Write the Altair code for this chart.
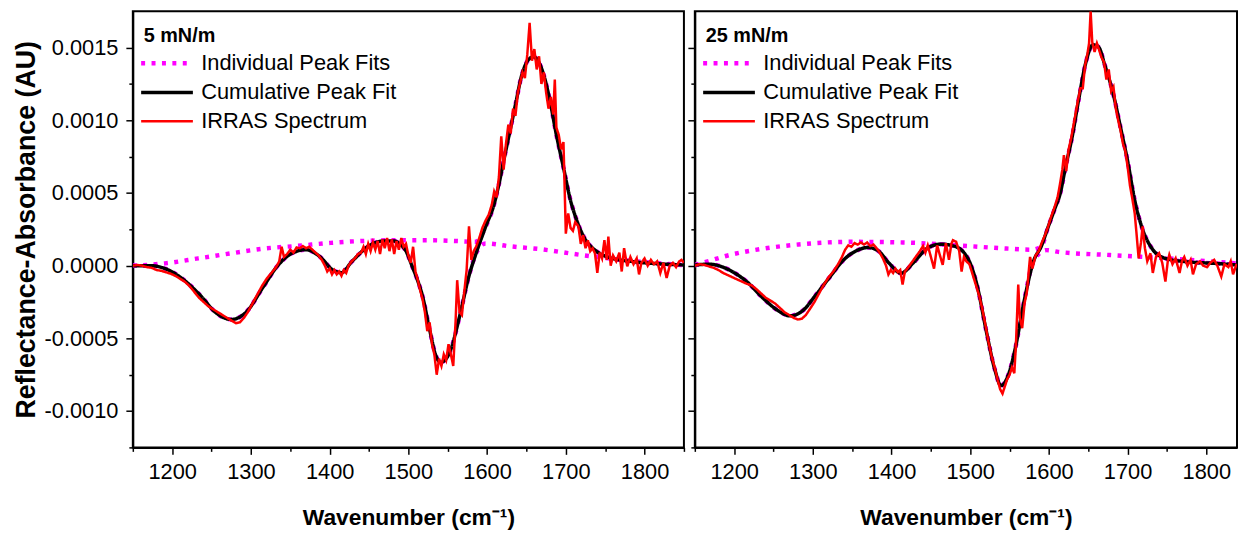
import altair as alt
import pandas as pd

FONT = "Liberation Sans"
SERIES = ["Individual Peak Fits", "Cumulative Peak Fit", "IRRAS Spectrum"]
COLORS = ["#ff00ff", "#000000", "#ff0000"]
DASHES = [[4, 6.5], [1, 0], [1, 0]]
WIDTHS = [4.5, 2.5, 1.2]

X_MAJOR = [1200, 1300, 1400, 1500, 1600, 1700, 1800]
X_MINOR = [1150, 1250, 1350, 1450, 1550, 1650, 1750, 1850]
Y_MAJOR = [-0.001, -0.0005, 0.0, 0.0005, 0.001, 0.0015]
Y_MINOR = [-0.00125, -0.00075, -0.00025, 0.00025, 0.00075, 0.00125]

# ---------------- 5 mN/m ----------------
fit5_wn = [1150, 1172, 1190, 1212, 1235, 1257, 1275, 1293, 1316, 1334, 1352, 1370, 1388, 1404,
           1415, 1428, 1451, 1469, 1481, 1490, 1497, 1505, 1511, 1518, 1527, 1535, 1541, 1548,
           1554, 1565, 1577, 1586, 1598, 1609, 1615, 1621, 1628, 1636, 1644, 1653, 1659, 1665,
           1672, 1680, 1688, 1697, 1705, 1714, 1724, 1737, 1753, 1787, 1821, 1850]
fit5_v = [0.0e-4, 0.0e-4, -0.18e-4, -0.86e-4, -2.0e-4, -3.3e-4, -3.7e-4, -3.25e-4, -1.43e-4, 0.0e-4,
          0.85e-4, 1.1e-4, 0.6e-4, -0.3e-4, -0.48e-4, 0.27e-4, 1.4e-4, 1.7e-4, 1.7e-4, 1.45e-4,
          1.0e-4, -0.07e-4, -0.9e-4, -2.1e-4, -4.4e-4, -6.2e-4, -6.65e-4, -6.4e-4, -5.75e-4,
          -3.5e-4, -0.7e-4, 0.85e-4, 2.66e-4, 4.25e-4, 5.6e-4, 7.2e-4, 9.0e-4, 11.07e-4, 13.1e-4,
          14.2e-4, 14.37e-4, 14.07e-4, 13.1e-4, 11.3e-4, 9.0e-4, 6.75e-4, 4.7e-4, 3.1e-4, 1.87e-4,
          1.07e-4, 0.6e-4, 0.27e-4, 0.12e-4, 0.05e-4]
hump5_wn = [1150, 1191, 1233, 1275, 1317, 1359, 1401, 1443, 1480, 1523, 1560, 1585]
hump5_v = [0.0e-4, 0.16e-4, 0.5e-4, 0.85e-4, 1.18e-4, 1.36e-4, 1.57e-4, 1.7e-4, 1.75e-4, 1.75e-4,
           1.7e-4, 1.64e-4]
base5_wn = [1598, 1628, 1670, 1711, 1754, 1795, 1850]
base5_v = [1.53e-4, 1.34e-4, 1.12e-4, 0.8e-4, 0.5e-4, 0.27e-4, 0.03e-4]
cross5 = 1586
red5_wn = [1150, 1156, 1162, 1168, 1174, 1180, 1186, 1192, 1198, 1204, 1210, 1216, 1222, 1228,
           1234, 1240, 1246, 1252, 1258, 1264, 1270, 1276, 1281, 1286, 1291, 1296, 1302, 1308,
           1314, 1320, 1326, 1332, 1336, 1339, 1342, 1346, 1350, 1354, 1358, 1362, 1366, 1370,
           1374, 1378, 1382, 1386, 1390, 1394, 1397, 1400, 1403, 1406, 1409, 1412, 1415, 1418,
           1421, 1424, 1428, 1432, 1436, 1440, 1443, 1446, 1449, 1452, 1455, 1458, 1461, 1464,
           1467, 1470, 1473, 1476, 1479, 1482, 1485, 1488, 1491, 1494, 1497, 1500, 1503, 1506,
           1509, 1512, 1515, 1518, 1521, 1524, 1527, 1530, 1533, 1536, 1539, 1542, 1545, 1548,
           1551, 1554, 1557, 1560, 1562, 1565, 1568, 1571, 1574, 1577, 1580, 1583, 1586, 1590,
           1594, 1598, 1602, 1606, 1609, 1612, 1615, 1618, 1621, 1624, 1627, 1630, 1633, 1636,
           1639, 1642, 1645, 1648, 1651, 1654, 1657, 1660, 1663, 1666, 1669, 1672, 1675, 1678,
           1681, 1684, 1686, 1688, 1691, 1694, 1697, 1700, 1703, 1706, 1709, 1712, 1716, 1719,
           1722, 1725, 1728, 1731, 1734, 1737, 1740, 1743, 1746, 1749, 1752, 1754, 1757, 1760,
           1764, 1768, 1771, 1774, 1778, 1782, 1786, 1790, 1793, 1796, 1800, 1804, 1808, 1812,
           1816, 1820, 1824, 1828, 1832, 1836, 1840, 1844, 1847, 1850]
red5_v = [0.0e-4, 0.05e-4, 0.0e-4, -0.1e-4, -0.15e-4, -0.3e-4, -0.35e-4, -0.45e-4, -0.55e-4,
          -0.7e-4, -0.9e-4, -1.1e-4, -1.4e-4, -1.8e-4, -2.2e-4, -2.5e-4, -2.8e-4, -3.0e-4, -3.2e-4,
          -3.4e-4, -3.6e-4, -3.8e-4, -3.95e-4, -3.9e-4, -3.6e-4, -3.2e-4, -2.6e-4, -2.0e-4, -1.4e-4,
          -0.9e-4, -0.5e-4, -0.1e-4, 0.3e-4, 1.3e-4, 0.6e-4, 0.8e-4, 1.1e-4, 0.9e-4, 1.25e-4,
          1.2e-4, 1.35e-4, 1.2e-4, 1.3e-4, 1.1e-4, 0.9e-4, 0.7e-4, 0.4e-4, 0.0e-4, -0.4e-4,
          -0.2e-4, -0.6e-4, -0.3e-4, -0.6e-4, -0.4e-4, -0.7e-4, -0.3e-4, -0.5e-4, 0.0e-4, 0.3e-4,
          0.5e-4, 0.8e-4, 0.9e-4, 1.3e-4, 0.8e-4, 1.5e-4, 1.0e-4, 1.6e-4, 1.1e-4, 1.7e-4, 0.8e-4,
          1.8e-4, 1.2e-4, 1.9e-4, 1.0e-4, 1.8e-4, 0.8e-4, 1.7e-4, 1.1e-4, 1.9e-4, 1.3e-4, 1.5e-4,
          0.7e-4, 0.2e-4, 1.3e-4, -0.4e-4, -1.0e-4, -1.7e-4, -2.3e-4, -3.2e-4, -4.5e-4, -3.9e-4,
          -5.4e-4, -6.1e-4, -7.5e-4, -6.4e-4, -6.9e-4, -6.1e-4, -6.5e-4, -5.4e-4, -6.1e-4,
          -6.9e-4, -3.8e-4, -1.0e-4, -3.2e-4, -3.4e-4, -1.8e-4, -0.3e-4, 2.7e-4, 0.4e-4, 1.0e-4,
          1.3e-4, 1.9e-4, 2.6e-4, 3.1e-4, 3.5e-4, 4.2e-4, 5.1e-4, 4.7e-4, 6.1e-4, 8.9e-4, 6.6e-4,
          8.4e-4, 9.7e-4, 9.1e-4, 10.8e-4, 10.3e-4, 11.9e-4, 12.6e-4, 13.3e-4, 12.9e-4, 14.5e-4,
          16.7e-4, 14.1e-4, 14.9e-4, 13.5e-4, 14.4e-4, 12.5e-4, 13.3e-4, 11.9e-4, 10.8e-4,
          11.6e-4, 10.4e-4, 12.8e-4, 9.5e-4, 9.0e-4, 8.0e-4, 8.5e-4, 2.2e-4, 3.6e-4, 2.6e-4,
          2.4e-4, 3.0e-4, 2.7e-4, 1.5e-4, 2.1e-4, 1.2e-4, 1.75e-4, 1.0e-4, 1.2e-4, 0.85e-4,
          -0.5e-4, 0.9e-4, 0.5e-4, 1.75e-4, 0.4e-4, 2.0e-4, 0.0e-4, 0.7e-4, 0.3e-4, 0.9e-4,
          -0.4e-4, 1.2e-4, -0.05e-4, 0.6e-4, 0.1e-4, 0.5e-4, -0.6e-4, 0.2e-4, 0.5e-4, 0.0e-4,
          0.4e-4, 0.1e-4, 0.3e-4, -0.5e-4, 0.2e-4, -0.85e-4, 0.0e-4, 0.2e-4, -0.1e-4, 0.3e-4,
          0.4e-4, 0.2e-4]

# ---------------- 25 mN/m ----------------
fit25_wn = [1150, 1168, 1194, 1216, 1238, 1256, 1271, 1287, 1304, 1322, 1339, 1357, 1370, 1383,
            1397, 1412, 1427, 1445, 1462, 1480, 1498, 1509, 1520, 1531, 1539, 1548, 1557, 1568,
            1581, 1590, 1599, 1608, 1614, 1621, 1630, 1638, 1647, 1656, 1663, 1671, 1682, 1691,
            1700, 1709, 1718, 1731, 1748, 1775, 1810, 1850]
fit25_v = [0.05e-4, 0.1e-4, -0.3e-4, -1.1e-4, -2.3e-4, -3.1e-4, -3.45e-4, -3.1e-4, -2.0e-4,
           -0.75e-4, 0.39e-4, 1.07e-4, 1.25e-4, 1.02e-4, 0.16e-4, -0.52e-4, 0.16e-4, 1.18e-4,
           1.48e-4, 1.34e-4, 0.39e-4, -1.43e-4, -4.4e-4, -7.1e-4, -8.25e-4, -7.57e-4, -5.75e-4,
           -2.56e-4, 0.39e-4, 1.3e-4, 2.66e-4, 4.0e-4, 4.9e-4, 6.75e-4, 9.0e-4, 11.5e-4, 14.0e-4,
           15.2e-4, 15.05e-4, 13.8e-4, 11.75e-4, 9.5e-4, 7.2e-4, 4.5e-4, 2.66e-4, 1.18e-4, 0.5e-4,
           0.27e-4, 0.16e-4, 0.0e-4]
hump25_wn = [1150, 1159, 1194, 1238, 1282, 1348, 1414, 1480, 1546, 1577]
hump25_v = [0.05e-4, 0.18e-4, 0.73e-4, 1.18e-4, 1.46e-4, 1.64e-4, 1.6e-4, 1.41e-4, 1.18e-4, 1.1e-4]
base25_wn = [1597, 1612, 1678, 1766, 1850]
base25_v = [1.07e-4, 0.95e-4, 0.73e-4, 0.45e-4, 0.1e-4]
cross25 = 1582
red25_wn = [1150, 1156, 1162, 1168, 1174, 1180, 1186, 1192, 1198, 1204, 1210, 1216, 1222, 1228,
            1234, 1240, 1246, 1252, 1258, 1264, 1270, 1276, 1281, 1286, 1291, 1296, 1302, 1308,
            1314, 1320, 1326, 1332, 1337, 1341, 1345, 1349, 1353, 1357, 1361, 1365, 1369, 1373,
            1377, 1381, 1385, 1389, 1393, 1396, 1399, 1402, 1405, 1408, 1411, 1414, 1417, 1420,
            1424, 1428, 1432, 1436, 1440, 1443, 1446, 1450, 1454, 1458, 1461, 1465, 1469, 1473,
            1476, 1478, 1482, 1486, 1489, 1492, 1495, 1499, 1503, 1507, 1511, 1515, 1519, 1523,
            1527, 1531, 1535, 1538, 1541, 1544, 1547, 1550, 1553, 1556, 1558, 1561, 1563, 1566,
            1569, 1572, 1576, 1579, 1583, 1587, 1591, 1595, 1599, 1603, 1607, 1611, 1614, 1617,
            1619, 1622, 1625, 1628, 1631, 1634, 1637, 1640, 1643, 1646, 1649, 1651, 1653, 1655,
            1658, 1661, 1664, 1667, 1670, 1673, 1676, 1679, 1682, 1685, 1688, 1691, 1694, 1697,
            1700, 1703, 1706, 1709, 1711, 1714, 1717, 1719, 1722, 1725, 1729, 1732, 1736, 1740,
            1744, 1748, 1751, 1753, 1757, 1761, 1766, 1769, 1772, 1776, 1780, 1783, 1787, 1792,
            1796, 1801, 1805, 1810, 1814, 1819, 1823, 1828, 1831, 1834, 1838, 1842]
red25_v = [0.0e-4, 0.1e-4, 0.05e-4, -0.05e-4, -0.15e-4, -0.3e-4, -0.5e-4, -0.65e-4, -0.8e-4,
           -0.95e-4, -1.1e-4, -1.25e-4, -1.35e-4, -1.6e-4, -1.9e-4, -2.2e-4, -2.4e-4, -2.6e-4,
           -2.9e-4, -3.2e-4, -3.4e-4, -3.6e-4, -3.7e-4, -3.65e-4, -3.4e-4, -3.0e-4, -2.5e-4,
           -1.9e-4, -1.3e-4, -0.8e-4, -0.4e-4, 0.1e-4, 0.6e-4, 1.1e-4, 1.4e-4, 1.3e-4, 1.55e-4,
           1.45e-4, 1.6e-4, 1.45e-4, 1.6e-4, 1.35e-4, 1.45e-4, 1.2e-4, 0.9e-4, 0.5e-4, 0.0e-4,
           -0.6e-4, -0.3e-4, -0.5e-4, -0.2e-4, -0.45e-4, -0.3e-4, -1.3e-4, -0.4e-4, -0.2e-4,
           0.1e-4, 0.4e-4, 0.7e-4, 1.0e-4, 1.35e-4, 0.9e-4, 1.4e-4, 0.6e-4, -0.2e-4, 1.4e-4,
           0.8e-4, 0.05e-4, 1.55e-4, 0.4e-4, 1.5e-4, 1.75e-4, 1.65e-4, 1.0e-4, -0.4e-4, 0.6e-4,
           0.3e-4, 0.1e-4, -0.6e-4, -1.3e-4, -2.0e-4, -2.9e-4, -4.0e-4, -5.2e-4, -6.2e-4, -7.0e-4,
           -7.9e-4, -8.5e-4, -8.8e-4, -8.3e-4, -7.8e-4, -7.5e-4, -7.0e-4, -7.4e-4, -5.5e-4,
           -1.3e-4, -3.6e-4, -4.3e-4, -2.6e-4, -1.8e-4, 0.6e-4, -0.2e-4, 0.7e-4, 1.0e-4, 1.6e-4,
           2.1e-4, 2.7e-4, 3.4e-4, 4.0e-4, 4.7e-4, 5.6e-4, 6.6e-4, 7.6e-4, 6.5e-4, 8.0e-4, 8.7e-4,
           9.6e-4, 10.5e-4, 11.4e-4, 12.2e-4, 12.2e-4, 13.8e-4, 14.6e-4, 15.3e-4, 17.5e-4, 15.4e-4,
           14.7e-4, 15.3e-4, 14.8e-4, 14.3e-4, 14.0e-4, 12.8e-4, 13.5e-4, 12.0e-4, 12.3e-4,
           10.8e-4, 10.0e-4, 9.3e-4, 8.4e-4, 7.9e-4, 6.8e-4, 5.5e-4, 4.6e-4, 3.6e-4, 2.4e-4,
           0.5e-4, 1.6e-4, 2.7e-4, 1.2e-4, 0.3e-4, 0.85e-4, -0.5e-4, 0.6e-4, 0.85e-4, 0.2e-4,
           -1.1e-4, 0.3e-4, 0.75e-4, 0.1e-4, 0.5e-4, -0.5e-4, 0.3e-4, 0.6e-4, 0.0e-4, 0.4e-4,
           -0.6e-4, 0.1e-4, 0.3e-4, 0.0e-4, -0.1e-4, 0.2e-4, 0.4e-4, 0.0e-4, -0.75e-4, 0.1e-4,
           -0.1e-4, 0.3e-4, -0.6e-4, 0.05e-4, 0.1e-4]


def frame(wn, v, series, curve):
    return pd.DataFrame({"wn": wn, "v": v, "series": series, "curve": curve})


def panel(label, fit_wn, fit_v, hump_wn, hump_v, base_wn, base_v, cross,
          red_wn, red_v, xmax, width, left):
    fit_df = frame(fit_wn, fit_v, SERIES[1], "fit")
    lo = [(w, y) for w, y in zip(fit_wn, fit_v) if w <= cross]
    hi = [(w, y) for w, y in zip(fit_wn, fit_v) if w > cross]
    peak_a = frame(hump_wn + [w for w, _ in hi], hump_v + [y for _, y in hi], SERIES[0], "a")
    peak_b = frame([w for w, _ in lo] + base_wn, [y for _, y in lo] + base_v, SERIES[0], "b")
    peaks_df = pd.concat([peak_a, peak_b], ignore_index=True)
    red_df = frame(red_wn, red_v, SERIES[2], "red")

    xscale = alt.Scale(domain=[1150, xmax], nice=False, zero=False)
    yscale = alt.Scale(domain=[-0.00125, 0.00175], nice=False, zero=False)

    x_axis = alt.Axis(values=X_MAJOR, orient="bottom", title="Wavenumber (cm\u207b\u00b9)",
                      format="d", tickSize=7, tickWidth=1.5, domainWidth=2, labelFontSize=22,
                      labelPadding=7, titleFontSize=23, titleFontWeight="bold",
                      titlePadding=25, grid=False, labelFlush=False)
    if left:
        y_axis = alt.Axis(values=Y_MAJOR, orient="left", title="Reflectance-Absorbance (AU)",
                          labelExpr="(datum.value < 0 ? '-' : '') + format(abs(datum.value), '.4f')",
                          tickSize=7, tickWidth=1.5, domainWidth=2, labelFontSize=22,
                          labelPadding=8, titleFontSize=27, titleFontWeight="bold",
                          titlePadding=4, grid=False)
    else:
        y_axis = alt.Axis(values=Y_MAJOR, orient="left", title=None, labels=False,
                          tickSize=7, tickWidth=1.5, domainWidth=2, grid=False)

    legend = alt.Legend(title=label, orient="none", legendX=11, legendY=15,
                        symbolType="M-2.9,0H2.9", symbolSize=324, symbolOffset=12,
                        labelOffset=23, labelFontSize=22, labelFont=FONT, labelLimit=400,
                        titleFont=FONT, titleFontSize=20, titleFontWeight="bold",
                        titlePadding=6, rowPadding=7, padding=0, titleColor="black",
                        labelColor="black")
    enc = dict(
        x=alt.X("wn:Q", scale=xscale, axis=x_axis),
        y=alt.Y("v:Q", scale=yscale, axis=y_axis),
        color=alt.Color("series:N", scale=alt.Scale(domain=SERIES, range=COLORS), legend=legend),
        strokeDash=alt.StrokeDash("series:N", scale=alt.Scale(domain=SERIES, range=DASHES),
                                  legend=legend),
        strokeWidth=alt.StrokeWidth("series:N", scale=alt.Scale(domain=SERIES, range=WIDTHS),
                                    legend=legend),
    )
    peaks = alt.Chart(peaks_df).mark_line(clip=True, interpolate="monotone").encode(
        detail="curve:N", **enc)
    fit = alt.Chart(fit_df).mark_line(clip=True, interpolate="monotone").encode(**enc)
    red = alt.Chart(red_df).mark_line(clip=True).encode(**enc)
    main = alt.layer(peaks, fit, red)

    minor = alt.Chart(fit_df).mark_point(opacity=0, size=1, clip=True).encode(
        x=alt.X("wn:Q", scale=xscale,
                axis=alt.Axis(values=[t for t in X_MINOR if t <= xmax], orient="bottom",
                              title=None, labels=False, domain=False, tickSize=4,
                              tickWidth=1.5, grid=False)),
        y=alt.Y("v:Q", scale=yscale,
                axis=alt.Axis(values=Y_MINOR, orient="left", title=None, labels=False,
                              domain=False, tickSize=4, tickWidth=1.5, grid=False)),
    )
    return alt.layer(main, minor).resolve_axis(x="independent", y="independent").properties(
        width=width, height=440)


left_panel = panel("5 mN/m", fit5_wn, fit5_v, hump5_wn, hump5_v, base5_wn, base5_v, cross5,
                   red5_wn, red5_v, 1850, 556, True)
right_panel = panel("25 mN/m", fit25_wn, fit25_v, hump25_wn, hump25_v, base25_wn, base25_v,
                    cross25, red25_wn, red25_v, 1839, 547, False)

chart = alt.hconcat(left_panel, right_panel, spacing=0).resolve_scale(
    color="independent", strokeDash="independent", strokeWidth="independent"
).properties(
    padding={"left": 11, "top": 8, "right": 0, "bottom": 0}
).configure(
    font=FONT
).configure_view(
    stroke="black", strokeWidth=2
).configure_axis(
    labelFont=FONT, titleFont=FONT, labelColor="black", titleColor="black",
    tickColor="black", domainColor="black"
)

chart.save("out.html", embed_options={"renderer": "svg", "actions": False})
